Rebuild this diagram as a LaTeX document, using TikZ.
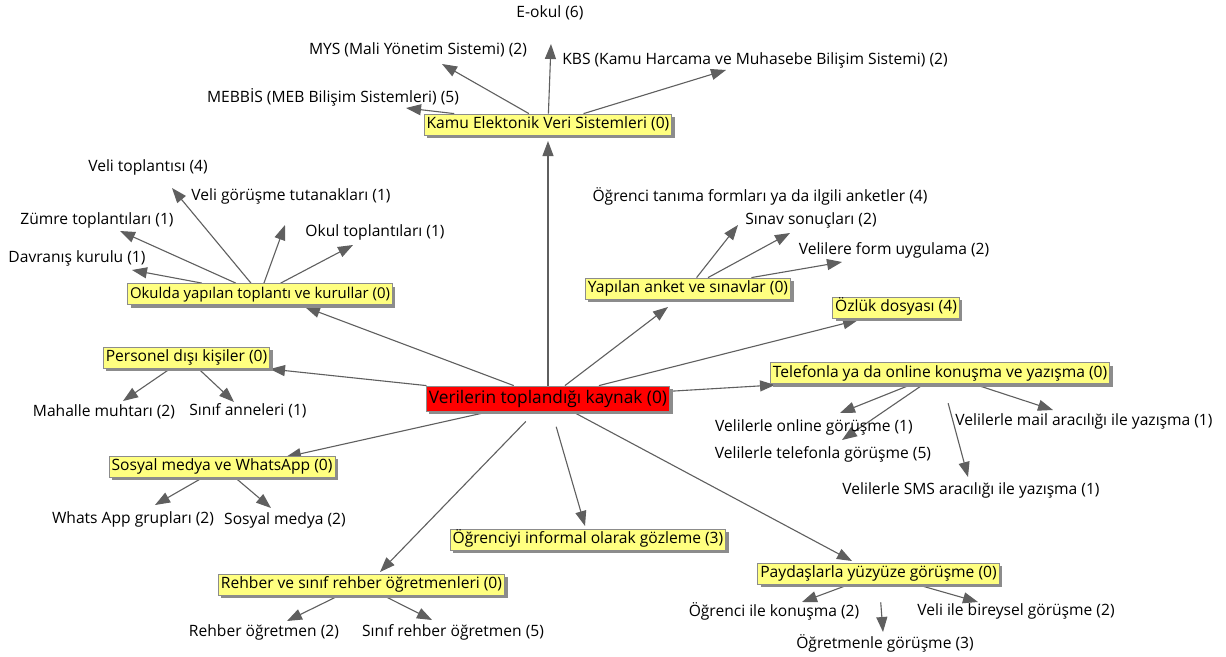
\documentclass[tikz,border=0pt]{standalone}
\usepackage{fontspec}
\setmainfont{Open Sans}
\usetikzlibrary{shadows,arrows.meta}
\definecolor{boxy}{RGB}{255,255,128}
\definecolor{lin}{RGB}{95,95,95}
\pgfdeclarelayer{bg}
\pgfsetlayers{bg,main}
\begin{document}
\begin{tikzpicture}[x=1pt,y=-1pt,
  font=\fontsize{15.6}{18}\selectfont,
  lbl/.style={inner sep=0pt, text=black},
  cbox/.style={draw=black!45, line width=0.8pt, fill=boxy, inner xsep=2.5pt, inner ysep=0pt,
    minimum height=21pt, text height=12pt, text depth=4pt,
    drop shadow={shadow xshift=3pt, shadow yshift=-3pt, fill=black!45, opacity=1}},
  narrowbox/.style={cbox, font=\fontsize{14.9}{18}\selectfont},
  rootbox/.style={cbox, fill=red, font=\fontsize{17.3}{20}\selectfont, minimum height=25pt,
    text height=13.5pt, text depth=4.5pt},
  arr/.style={draw=lin, line width=1.1pt, -{Triangle[length=15pt,width=11pt,fill=lin]}},
]
\useasboundingbox (0,0) rectangle (1226,656);

% boxes
\node[rootbox] (src) at (548,398.5) {Verilerin toplandığı kaynak (0)};
\node[cbox] (kamu) at (548,124.5) {Kamu Elektonik Veri Sistemleri (0)};
\node[narrowbox] (okul) at (260,294) {Okulda yapılan toplantı ve kurullar (0)};
\node[cbox] (anket) at (688,288.5) {Yapılan anket ve sınavlar (0)};
\node[cbox] (ozluk) at (896,307.5) {Özlük dosyası (4)};
\node[cbox] (pers) at (186.5,357.5) {Personel dışı kişiler (0)};
\node[cbox] (tel) at (940,373) {Telefonla ya da online konuşma ve yazışma (0)};
\node[cbox] (sos) at (222,466.5) {Sosyal medya ve WhatsApp (0)};
\node[cbox] (inf) at (588,539.5) {Öğrenciyi informal olarak gözleme (3)};
\node[cbox] (reh) at (361.5,584.5) {Rehber ve sınıf rehber öğretmenleri (0)};
\node[cbox] (pay) at (878.5,573.5) {Paydaşlarla yüzyüze görüşme (0)};

% labels
\node[lbl] (eokul) at (550,13) {E-okul (6)};
\node[lbl] (mys) at (418,50) {MYS (Mali Yönetim Sistemi) (2)};
\node[lbl] (kbs) at (755,60) {KBS (Kamu Harcama ve Muhasebe Bilişim Sistemi) (2)};
\node[lbl] (mebbis) at (333,97) {MEBBİS (MEB Bilişim Sistemleri) (5)};
\node[lbl] (velit) at (148,167) {Veli toplantısı (4)};
\node[lbl] (velig) at (291,196) {Veli görüşme tutanakları (1)};
\node[lbl] (zumre) at (97,220) {Zümre toplantıları (1)};
\node[lbl] (okult) at (375,232) {Okul toplantıları (1)};
\node[lbl] (davr) at (77,258) {Davranış kurulu (1)};
\node[lbl] (otan) at (760,196) {Öğrenci tanıma formları ya da ilgili anketler (4)};
\node[lbl] (sinav) at (811,220) {Sınav sonuçları (2)};
\node[lbl] (velif) at (894,250) {Velilere form uygulama (2)};
\node[lbl] (mah) at (104,412) {Mahalle muhtarı (2)};
\node[lbl] (sinif) at (248,411) {Sınıf anneleri (1)};
\node[lbl] (vonl) at (814,427) {Velilerle online görüşme (1)};
\node[lbl] (vmail) at (1084,421) {Velilerle mail aracılığı ile yazışma (1)};
\node[lbl] (vtel) at (823,454) {Velilerle telefonla görüşme (5)};
\node[lbl] (vsms) at (971,490) {Velilerle SMS aracılığı ile yazışma (1)};
\node[lbl] (whats) at (133,519) {Whats App grupları (2)};
\node[lbl] (sosm) at (285,520) {Sosyal medya (2)};
\node[lbl] (rogr) at (264,632) {Rehber öğretmen (2)};
\node[lbl] (srogr) at (453,632) {Sınıf rehber öğretmen (5)};
\node[lbl] (oik) at (774,611) {Öğrenci ile konuşma (2)};
\node[lbl] (vib) at (1016,611) {Veli ile bireysel görüşme (2)};
\node[lbl] (ogrg) at (885,643) {Öğretmenle görüşme (3)};

% arrow tips
\coordinate (t-kamu) at (548,141);
\coordinate (t-okul) at (305,307);
\coordinate (t-pers) at (270,369);
\coordinate (t-sos) at (286,457);
\coordinate (t-reh) at (380,572);
\coordinate (t-inf) at (585,526);
\coordinate (t-pay) at (852,561);
\coordinate (t-tel) at (775,385);
\coordinate (t-ozluk) at (858,320);
\coordinate (t-anket) at (668,307);
\coordinate (t-eokul) at (551,44);
\coordinate (t-mys) at (442,64);
\coordinate (t-kbs) at (726,70);
\coordinate (t-mebbis) at (406,108);
\coordinate (t-velit) at (172,188);
\coordinate (t-velig) at (285,225);
\coordinate (t-zumre) at (120,231);
\coordinate (t-okult) at (353,245);
\coordinate (t-davr) at (132,270);
\coordinate (t-otan) at (738,225);
\coordinate (t-sinav) at (790,233);
\coordinate (t-velif) at (842,262);
\coordinate (t-mah) at (123,401);
\coordinate (t-sinif) at (234,402);
\coordinate (t-whats) at (155,505);
\coordinate (t-sosm) at (271,508);
\coordinate (t-vonl) at (840,413);
\coordinate (t-vtel) at (842,440);
\coordinate (t-vmail) at (1053,410);
\coordinate (t-vsms) at (968,477);
\coordinate (t-rogr) at (287,621);
\coordinate (t-srogr) at (432,620);
\coordinate (t-oik) at (802,602);
\coordinate (t-vib) at (978,602);
\coordinate (t-ogrg) at (883,632);

% connectors
\begin{pgfonlayer}{bg}
\fill[white] (0,0) rectangle (1226,656);
\draw[arr] (src) -- (t-kamu);
\draw[arr] (src) -- (t-okul);
\draw[arr] (src) -- (t-pers);
\draw[arr] (src) -- (t-sos);
\draw[arr, shorten <=14pt] (src) -- (t-reh);
\draw[arr, shorten <=16pt] (src) -- (t-inf);
\draw[arr] (src) -- (t-pay);
\draw[arr] (src) -- (t-tel);
\draw[arr] (src) -- (t-ozluk);
\draw[arr] (src) -- (t-anket);
\draw[arr] (kamu) -- (t-eokul);
\draw[arr] (kamu) -- (t-mys);
\draw[arr] (kamu) -- (t-kbs);
\draw[arr] (kamu) -- (t-mebbis);
\draw[arr] (okul) -- (t-velit);
\draw[arr] (okul) -- (t-velig);
\draw[arr] (okul) -- (t-zumre);
\draw[arr] (okul) -- (t-okult);
\draw[arr] (okul) -- (t-davr);
\draw[arr] (anket) -- (t-otan);
\draw[arr] (anket) -- (t-sinav);
\draw[arr] (anket) -- (t-velif);
\draw[arr] (pers) -- (t-mah);
\draw[arr] (pers) -- (t-sinif);
\draw[arr] (sos) -- (t-whats);
\draw[arr] (sos) -- (t-sosm);
\draw[arr] (tel) -- (t-vonl);
\draw[arr] (tel) -- (t-vtel);
\draw[arr] (tel) -- (t-vmail);
\draw[arr, shorten <=20pt] (tel) -- (t-vsms);
\draw[arr] (reh) -- (t-rogr);
\draw[arr] (reh) -- (t-srogr);
\draw[arr] (pay) -- (t-oik);
\draw[arr] (pay) -- (t-vib);
\draw[arr, shorten <=18pt] (pay) -- (t-ogrg);
\end{pgfonlayer}
\end{tikzpicture}
\end{document}
